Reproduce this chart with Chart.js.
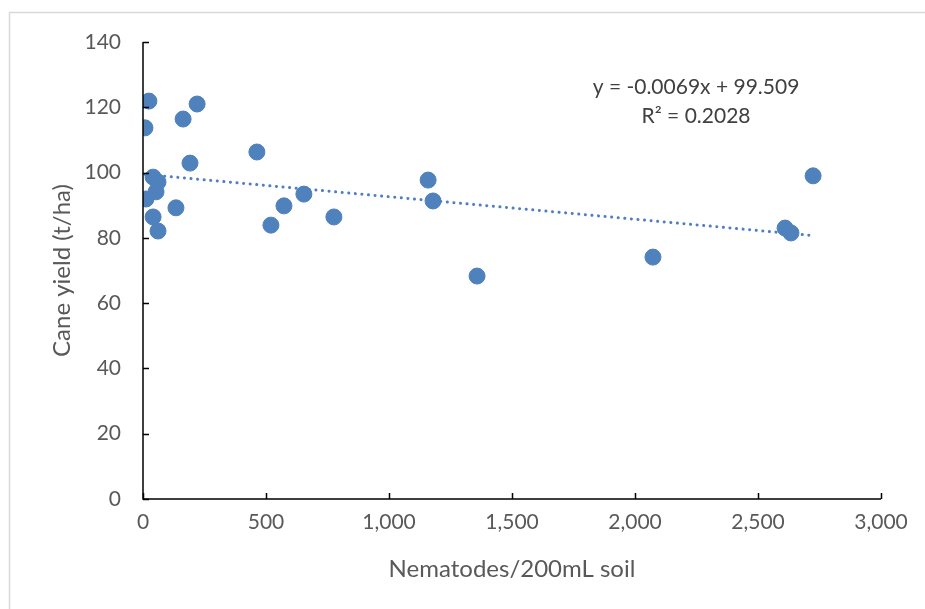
<!DOCTYPE html>
<html>
<head>
<meta charset="utf-8">
<script src="https://cdn.jsdelivr.net/npm/chart.js@4/dist/chart.umd.min.js"></script>
<style>
html,body{margin:0;padding:0;background:#fff;}
#wrap{width:925px;height:609px;position:relative;}
</style>
</head>
<body>
<div id="wrap"><canvas id="c" width="925" height="609"></canvas></div>
<script>
const nematodes = [8, 24, 12, 41, 61, 53, 41, 61, 134, 163, 220, 191, 463, 520, 573, 654, 776, 1159, 1179, 1358, 2073, 2610, 2634, 2724];
const caneYield = [113.7, 121.9, 91.9, 98.6, 97.1, 94.1, 86.4, 82.1, 89.2, 116.4, 121.0, 102.9, 106.3, 83.9, 89.8, 93.4, 86.4, 97.7, 91.3, 68.3, 74.1, 83.0, 81.5, 99.0];
const trendSlope = -0.0069;
const trendIntercept = 99.509;
const trendLabel = ["y = -0.0069x + 99.509", "R\u00B2 = 0.2028"];
const xTicks = [0, 500, 1000, 1500, 2000, 2500, 3000];
const yTicks = [0, 20, 40, 60, 80, 100, 120, 140];

const xMin = Math.min(...nematodes), xMax = Math.max(...nematodes);
const trendPoints = [
  {x: xMin, y: trendIntercept + trendSlope * xMin},
  {x: xMax, y: trendIntercept + trendSlope * xMax}
];

const FONT = "Lato, 'Open Sans', sans-serif";
const GREY = '#595959';

const deco = {
  id: 'deco',
  beforeDraw(chart) {
    const ctx = chart.ctx;
    ctx.save();
    ctx.fillStyle = '#fff';
    ctx.fillRect(0, 0, chart.width, chart.height);
    ctx.strokeStyle = '#d9d9d9';
    ctx.lineWidth = 1.5;
    ctx.beginPath();
    ctx.moveTo(9.5, chart.height);
    ctx.lineTo(9.5, 12.5);
    ctx.lineTo(chart.width, 12.5);
    ctx.stroke();
    ctx.restore();
  },
  afterDatasetsDraw(chart) {
    const ctx = chart.ctx;
    const xs = chart.scales.x, ys = chart.scales.y;
    const a = chart.chartArea;
    ctx.save();
    ctx.strokeStyle = '#000';
    ctx.lineWidth = 1.5;
    ctx.beginPath();
    ctx.moveTo(a.left, ys.getPixelForValue(140));
    ctx.lineTo(a.left, ys.getPixelForValue(0));
    ctx.lineTo(xs.getPixelForValue(3000), ys.getPixelForValue(0));
    ctx.stroke();
    ctx.beginPath();
    yTicks.forEach(v => {
      const p = Math.round(ys.getPixelForValue(v)) + 0.5;
      ctx.moveTo(a.left, p); ctx.lineTo(a.left + 6, p);
    });
    xTicks.forEach(v => {
      const p = Math.round(xs.getPixelForValue(v)) + 0.5;
      ctx.moveTo(p, ys.getPixelForValue(0)); ctx.lineTo(p, ys.getPixelForValue(0) - 6);
    });
    ctx.stroke();
    ctx.fillStyle = '#404040';
    ctx.font = "21px " + FONT;
    ctx.textAlign = 'center';
    ctx.textBaseline = 'middle';
    const cx = xs.getPixelForValue(2248);
    ctx.fillText(trendLabel[0], cx, ys.getPixelForValue(126.2));
    ctx.fillText(trendLabel[1], cx, ys.getPixelForValue(117.3));
    ctx.restore();
  }
};

new Chart(document.getElementById('c'), {
  type: 'scatter',
  data: {
    datasets: [
      {
        label: 'Trend',
        type: 'line',
        data: trendPoints,
        borderColor: '#4f7fc0',
        borderWidth: 3,
        borderDash: [0.1, 6.5],
        borderCapStyle: 'round',
        pointRadius: 0,
        fill: false,
        order: 2
      },
      {
        label: 'Cane yield',
        data: nematodes.map((x, i) => ({x: x, y: caneYield[i]})),
        backgroundColor: '#4f81bd',
        borderColor: '#4f81bd',
        pointRadius: 8,
        pointHoverRadius: 8,
        order: 1
      }
    ]
  },
  options: {
    responsive: false,
    animation: false,
    events: [],
    layout: {padding: {top: 42, right: 44, left: 0, bottom: 0}},
    plugins: {legend: {display: false}, tooltip: {enabled: false}},
    scales: {
      x: {
        type: 'linear', min: 0, max: 3000,
        afterBuildTicks: s => { s.ticks = xTicks.map(v => ({value: v})); },
        afterFit: s => { s.height = 110; },
        grid: {display: false, drawTicks: false},
        border: {display: false},
        ticks: {
          color: GREY, font: {family: FONT, size: 21}, padding: 11,
          maxRotation: 0,
          callback: v => v.toLocaleString('en-US')
        },
        title: {display: true, text: 'Nematodes/200mL soil', color: GREY, font: {family: FONT, size: 24}, padding: {top: 0, bottom: 25}}
      },
      y: {
        type: 'linear', min: 0, max: 140,
        afterBuildTicks: s => { s.ticks = yTicks.map(v => ({value: v})); },
        afterFit: s => { s.width = 143; },
        grid: {display: false, drawTicks: false},
        border: {display: false},
        ticks: {color: GREY, font: {family: FONT, size: 21}, padding: 22},
        title: {display: true, text: 'Cane yield (t/ha)', color: GREY, font: {family: FONT, size: 24}, padding: {top: 48, bottom: 0}}
      }
    }
  },
  plugins: [deco]
});
</script>
</body>
</html>
